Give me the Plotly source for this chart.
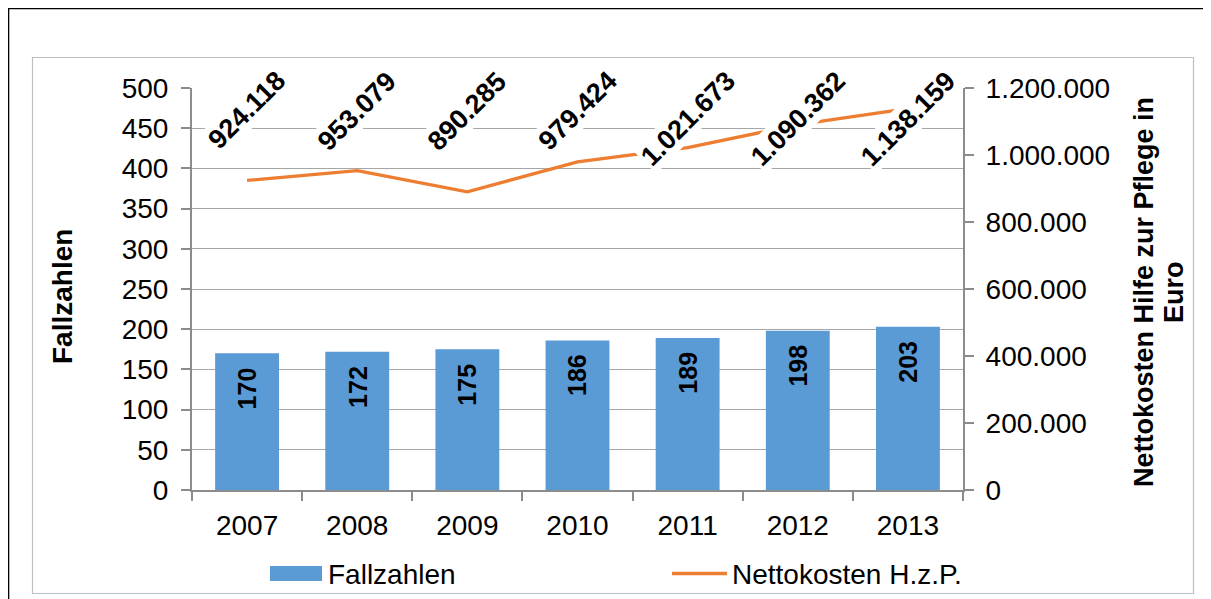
import plotly.graph_objects as go

# ---------------- data ----------------
years = ["2007", "2008", "2009", "2010", "2011", "2012", "2013"]
fallzahlen = [170, 172, 175, 186, 189, 198, 203]
nettokosten = [924118, 953079, 890285, 979424, 1021673, 1090362, 1138159]
left_ticks = [0, 50, 100, 150, 200, 250, 300, 350, 400, 450, 500]
right_ticks = [0, 200000, 400000, 600000, 800000, 1000000, 1200000]

# ---------------- layout geometry (pixels) ----------------
OFF = 8  # page body margin
W, H = 1211 - OFF, 599 - OFF
ML = 192 - OFF
MR = W - (963 - OFF)
MT = 88 - OFF
MB = H - (490 - OFF)
PW, PH = W - ML - MR, H - MT - MB


def px(x):  # page pixel -> paper
    return (x - OFF - ML) / PW


def py(y):
    return (H - MB - (y - OFF)) / PH


FONT = "Arial, Liberation Sans, sans-serif"
BLUE = "#5B9BD5"
ORANGE = "#ED7D31"
GRID = "#A6A6A6"
AXIS = "#8C8C8C"


def de(n):
    return f"{n:,}".replace(",", ".")


fig = go.Figure()
fig.add_trace(go.Bar(x=years, y=fallzahlen, name="Fallzahlen",
                     marker=dict(color=BLUE, line=dict(width=0)),
                     yaxis="y", showlegend=False))
fig.add_trace(go.Scatter(x=years, y=nettokosten, name="Nettokosten H.z.P.",
                         mode="lines", line=dict(color=ORANGE, width=3.3),
                         yaxis="y2", showlegend=False))

annotations = []
# bar value labels (inside, near top, rotated)
for i, v in enumerate(fallzahlen):
    annotations.append(dict(x=i, y=v, xref="x", yref="y", text=f"<b>{v}</b>",
                            textangle=-90, showarrow=False, yanchor="top",
                            xanchor="center", yshift=-12,
                            font=dict(family=FONT, size=25, color="black")))
# line value labels (rotated, white background)
for i, v in enumerate(nettokosten):
    annotations.append(dict(x=i, y=py(63), xref="x", yref="paper",
                            text=f"<b>{de(v)}</b>", textangle=-45,
                            showarrow=False, yanchor="top", xanchor="center",
                            bgcolor="white", borderpad=1,
                            font=dict(family=FONT, size=27, color="black")))
# axis titles
annotations.append(dict(x=px(62), y=py(297), xref="paper", yref="paper",
                        text="<b>Fallzahlen</b>", textangle=-90, showarrow=False,
                        xanchor="center", yanchor="middle",
                        font=dict(family=FONT, size=28, color="black")))
annotations.append(dict(x=px(1144), y=py(292), xref="paper", yref="paper",
                        text="<b>Nettokosten Hilfe zur Pflege in</b>", textangle=-90,
                        showarrow=False, xanchor="center", yanchor="middle",
                        font=dict(family=FONT, size=27, color="black")))
annotations.append(dict(x=px(1174), y=py(292), xref="paper", yref="paper",
                        text="<b>Euro</b>", textangle=-90,
                        showarrow=False, xanchor="center", yanchor="middle",
                        font=dict(family=FONT, size=27, color="black")))
# legend texts
annotations.append(dict(x=px(326), y=py(574), xref="paper", yref="paper",
                        text="Fallzahlen", showarrow=False, xanchor="left",
                        yanchor="middle",
                        font=dict(family=FONT, size=28, color="black")))
annotations.append(dict(x=px(730), y=py(574), xref="paper", yref="paper",
                        text="Nettokosten H.z.P.", showarrow=False, xanchor="left",
                        yanchor="middle",
                        font=dict(family=FONT, size=28, color="black")))

shapes = [
    # outer black frame
    dict(type="rect", xref="paper", yref="paper", x0=px(8), x1=px(1230),
         y0=py(620), y1=py(8), line=dict(color="black", width=2.6), layer="below"),
    # chart area frame
    dict(type="rect", xref="paper", yref="paper", x0=px(32.5), x1=px(1193.5),
         y0=py(593.5), y1=py(57.5), line=dict(color="#BFBFBF", width=1.2), layer="below"),
    # legend keys
    dict(type="rect", xref="paper", yref="paper", x0=px(270), x1=px(322),
         y0=py(581), y1=py(566), fillcolor=BLUE, line=dict(width=0)),
    dict(type="line", xref="paper", yref="paper", x0=px(672), x1=px(727),
         y0=py(573.5), y1=py(573.5), line=dict(color=ORANGE, width=3.3)),
]

fig.update_layout(
    width=W, height=H,
    margin=dict(l=ML, r=MR, t=MT, b=MB, pad=0),
    paper_bgcolor="white", plot_bgcolor="white",
    separators=",.",
    bargap=0.42,
    font=dict(family=FONT, size=28, color="black"),
    xaxis=dict(type="category", range=[-0.5, 6.5], showgrid=False,
               showline=True, linecolor=AXIS, linewidth=2,
               ticks="outside", tickson="boundaries", ticklen=9,
               tickcolor=AXIS, tickwidth=1.5, ticklabelstandoff=9,
               tickfont=dict(family=FONT, size=28, color="black")),
    yaxis=dict(range=[0, 500], tickvals=left_ticks, showgrid=True,
               gridcolor=GRID, gridwidth=1.4, zeroline=False,
               showline=True, linecolor=AXIS, linewidth=2,
               ticks="outside", ticklen=9, tickcolor=AXIS, tickwidth=1.5,
               ticklabelstandoff=7,
               tickfont=dict(family=FONT, size=28, color="black")),
    yaxis2=dict(range=[0, 1200000], tickvals=right_ticks,
                ticktext=[de(t) for t in right_ticks],
                overlaying="y", side="right", showgrid=False, zeroline=False,
                showline=True, linecolor=AXIS, linewidth=2,
                ticks="outside", ticklen=9, tickcolor=AXIS, tickwidth=1.5,
                ticklabelstandoff=6,
                tickfont=dict(family=FONT, size=28, color="black")),
    annotations=annotations,
    shapes=shapes,
    showlegend=False,
)

fig.write_html("out.html")
